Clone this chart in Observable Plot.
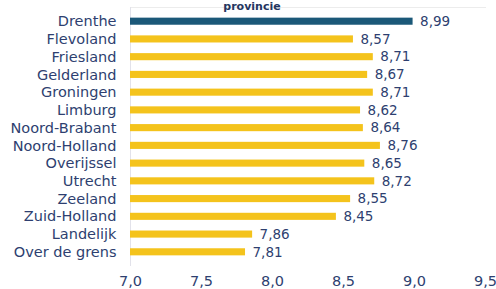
<!DOCTYPE html>
<html><head><meta charset="utf-8">
<script src="https://cdn.jsdelivr.net/npm/d3@7"></script>
<script src="https://cdn.jsdelivr.net/npm/@observablehq/plot@0.6"></script>
<style>
html,body{margin:0;padding:0;background:#fff;overflow:hidden;}
#chart{position:relative;width:496px;height:289px;}
</style>
</head><body><div id="chart"></div>
<script>
const provinces = ["Drenthe","Flevoland","Friesland","Gelderland","Groningen","Limburg","Noord-Brabant","Noord-Holland","Overijssel","Utrecht","Zeeland","Zuid-Holland","Landelijk","Over de grens"];
const scores = [8.99,8.57,8.71,8.67,8.71,8.62,8.64,8.76,8.65,8.72,8.55,8.45,7.86,7.81];
const highlight = "Drenthe";
const xTicks = [7.0,7.5,8.0,8.5,9.0,9.5];
const title = "provincie";

const data = provinces.map((p,i)=>({provincie:p, score:scores[i]}));
const fmt = v => v.toFixed(2).replace(".", ",");
const fmt1 = v => v.toFixed(1).replace(".", ",");
const navy = "#2e3f70";

const chart = Plot.plot({
  width: 496,
  height: 289,
  marginLeft: 130,
  marginRight: 11,
  marginTop: 7,
  marginBottom: 23,
  style: {fontFamily: "DejaVu Sans, Verdana, sans-serif", color: navy, background: "#fff"},
  x: {domain: [7, 9.5], ticks: xTicks, tickFormat: fmt1, label: null, tickSize: 0, tickPadding: 9},
  y: {domain: provinces, padding: 0.6, round: false, label: null, tickSize: 0, tickPadding: 14},
  marks: [
    Plot.frame({anchor: "top", stroke: "#ececec"}),
    Plot.ruleX([7], {stroke: "#e2e2ea"}),
    Plot.barX(data, {x1: 7, x2: "score", y: "provincie", fill: d => d.provincie === highlight ? "#1b5878" : "#f4c31c"}),
    Plot.text(data, {x: "score", y: "provincie", text: d => fmt(d.score), textAnchor: "start", dx: 7, fill: navy, fontSize: 13.5}),
    Plot.text([title], {frameAnchor: "top", text: d => d, dy: -5, fontWeight: "bold", fontSize: 11, fill: "#24365f", lineAnchor: "top", dx: -56})
  ]
});
const yAx = chart.querySelector("g[aria-label='y-axis tick label']");
if (yAx) { yAx.setAttribute("font-size", "14.5"); }
const xAx = chart.querySelector("g[aria-label='x-axis tick label']");
if (xAx) { xAx.setAttribute("font-size", "14.5"); }
document.getElementById("chart").appendChild(chart);
</script></body></html>
